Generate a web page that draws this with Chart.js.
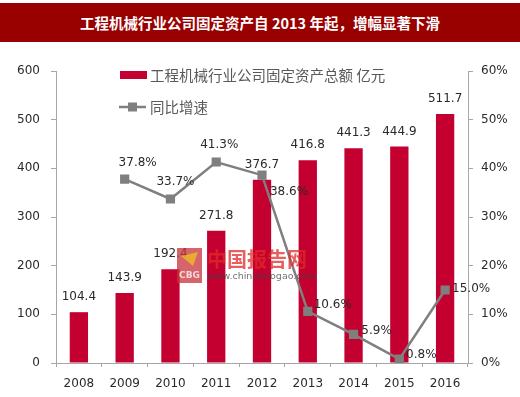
<!DOCTYPE html>
<html><head><meta charset="utf-8">
<script src="https://cdn.jsdelivr.net/npm/chart.js@4/dist/chart.umd.min.js"></script>
<style>
html,body{margin:0;padding:0;background:#fff;}
#wrap{position:relative;width:520px;height:397px;overflow:hidden;}
#title{position:absolute;left:0;top:3px;width:520px;height:39px;background:#990000;color:#fff;font:bold 14.5px "Noto Sans CJK SC","DejaVu Sans",sans-serif;line-height:39px;text-align:center;}
canvas{position:absolute;left:0;top:0;}
</style></head><body>
<div id="wrap"><canvas id="c" width="520" height="397"></canvas><div id="title">工程机械行业公司固定资产自 2013 年起，增幅显著下滑</div></div>
<script>
const categories = ['2008','2009','2010','2011','2012','2013','2014','2015','2016'];
const assetValues = [104.4,143.9,192.4,271.8,376.7,416.8,441.3,444.9,511.7];
const growthRates = [null,37.8,33.7,41.3,38.6,10.6,5.9,0.8,15.0];
const leftTicks = [0,100,200,300,400,500,600];
const rightTicks = [0,10,20,30,40,50,60];
const seriesNames = ['工程机械行业公司固定资产总额 亿元','同比增速'];

const barColor = '#C3002F';
const lineColor = '#7f7f7f';
const axisColor = '#a6a6a6';
const textColor = '#2a2a2a';
const lineLabelOffsets = [null,[13,-16],[5,-17],[3,-17],[27,17],[25,-7],[23,-3],[22,-4],[26,-1]];

const labelPlugin = {
  id:'labels',
  afterDatasetsDraw(chart){
    const ctx = chart.ctx;
    ctx.save();
    ctx.font = '12px "DejaVu Sans"';
    ctx.fillStyle = textColor;
    ctx.textAlign = 'center';
    ctx.textBaseline = 'middle';
    chart.getDatasetMeta(0).data.forEach((el,i)=>{
      ctx.fillText(assetValues[i].toFixed(1), el.x, el.y-15);
    });
    chart.getDatasetMeta(1).data.forEach((el,i)=>{
      if (growthRates[i]==null) return;
      const o = lineLabelOffsets[i];
      ctx.fillText(growthRates[i].toFixed(1)+'%', el.x+o[0], el.y+o[1]);
    });
    ctx.restore();
  },
  afterDraw(chart){
    const ctx = chart.ctx;
    ctx.save();
    // legend
    ctx.fillStyle = barColor;
    ctx.fillRect(120,71,27,8);
    ctx.font = '14.5px "Noto Sans CJK SC"';
    ctx.fillStyle = '#595959';
    ctx.textAlign = 'left';
    ctx.textBaseline = 'middle';
    ctx.fillText(seriesNames[0],150,75);
    ctx.strokeStyle = lineColor;
    ctx.lineWidth = 2.5;
    ctx.beginPath(); ctx.moveTo(119,107); ctx.lineTo(146,107); ctx.stroke();
    ctx.fillStyle = lineColor;
    ctx.fillRect(128,102.5,9,9);
    ctx.fillStyle = '#595959';
    ctx.fillText(seriesNames[1],150,107);
    // watermark
    ctx.globalAlpha = 0.75;
    ctx.fillStyle = '#c8323a';
    ctx.fillRect(177,248,25,35);
    ctx.fillStyle = '#f0c020';
    ctx.beginPath(); ctx.moveTo(181,256); ctx.lineTo(198,252); ctx.lineTo(193,266); ctx.closePath(); ctx.fill();
    ctx.fillStyle = '#fff';
    ctx.font = 'bold 9px "DejaVu Sans"';
    ctx.textAlign = 'center';
    ctx.fillText('CBG',189.5,276);
    ctx.fillStyle = '#e02a2a';
    ctx.font = 'bold 20px "Noto Sans CJK SC"';
    ctx.textAlign = 'left';
    ctx.fillText('中国报告网',207,259);
    ctx.fillStyle = '#444';
    ctx.font = '9.5px "DejaVu Sans"';
    ctx.fillText('www.chinabaogao.com',207,277);
    ctx.restore();
  }
};

new Chart(document.getElementById('c'), {
  data: {
    labels: categories,
    datasets: [
      {type:'bar', label:seriesNames[0], data:assetValues, backgroundColor:barColor, yAxisID:'y', order:2,
       barPercentage:0.4, categoryPercentage:1},
      {type:'line', label:seriesNames[1], data:growthRates, yAxisID:'y1', order:1,
       borderColor:lineColor, borderWidth:2.5, tension:0,
       pointStyle:'rect', pointRadius:6.5, pointBackgroundColor:lineColor, pointBorderColor:lineColor, pointBorderWidth:0}
    ]
  },
  options: {
    responsive:false, animation:false, devicePixelRatio:1,
    layout:{padding:{top:71,left:0,right:0,bottom:0}},
    plugins:{legend:{display:false}, tooltip:{enabled:false}},
    scales:{
      x:{
        grid:{drawOnChartArea:false, offset:true, tickLength:4, color:axisColor},
        border:{color:axisColor},
        ticks:{color:textColor, font:{family:'DejaVu Sans', size:12}, padding:10, maxRotation:0},
        afterFit(s){ s.height = 34; }
      },
      y:{
        position:'left', min:0, max:600,
        afterBuildTicks(s){ s.ticks = leftTicks.map(v=>({value:v})); },
        grid:{drawOnChartArea:false, tickLength:5, color:axisColor},
        border:{color:axisColor},
        ticks:{color:textColor, font:{family:'DejaVu Sans', size:12}, padding:11},
        afterFit(s){ s.width = 56; }
      },
      y1:{
        position:'right', min:0, max:60,
        afterBuildTicks(s){ s.ticks = rightTicks.map(v=>({value:v})); },
        grid:{drawOnChartArea:false, tickLength:5, color:axisColor},
        border:{color:axisColor},
        ticks:{color:textColor, font:{family:'DejaVu Sans', size:12}, padding:8, callback:v=>v+'%'},
        afterFit(s){ s.width = 52; }
      }
    }
  },
  plugins:[labelPlugin]
});
</script>
</body></html>
